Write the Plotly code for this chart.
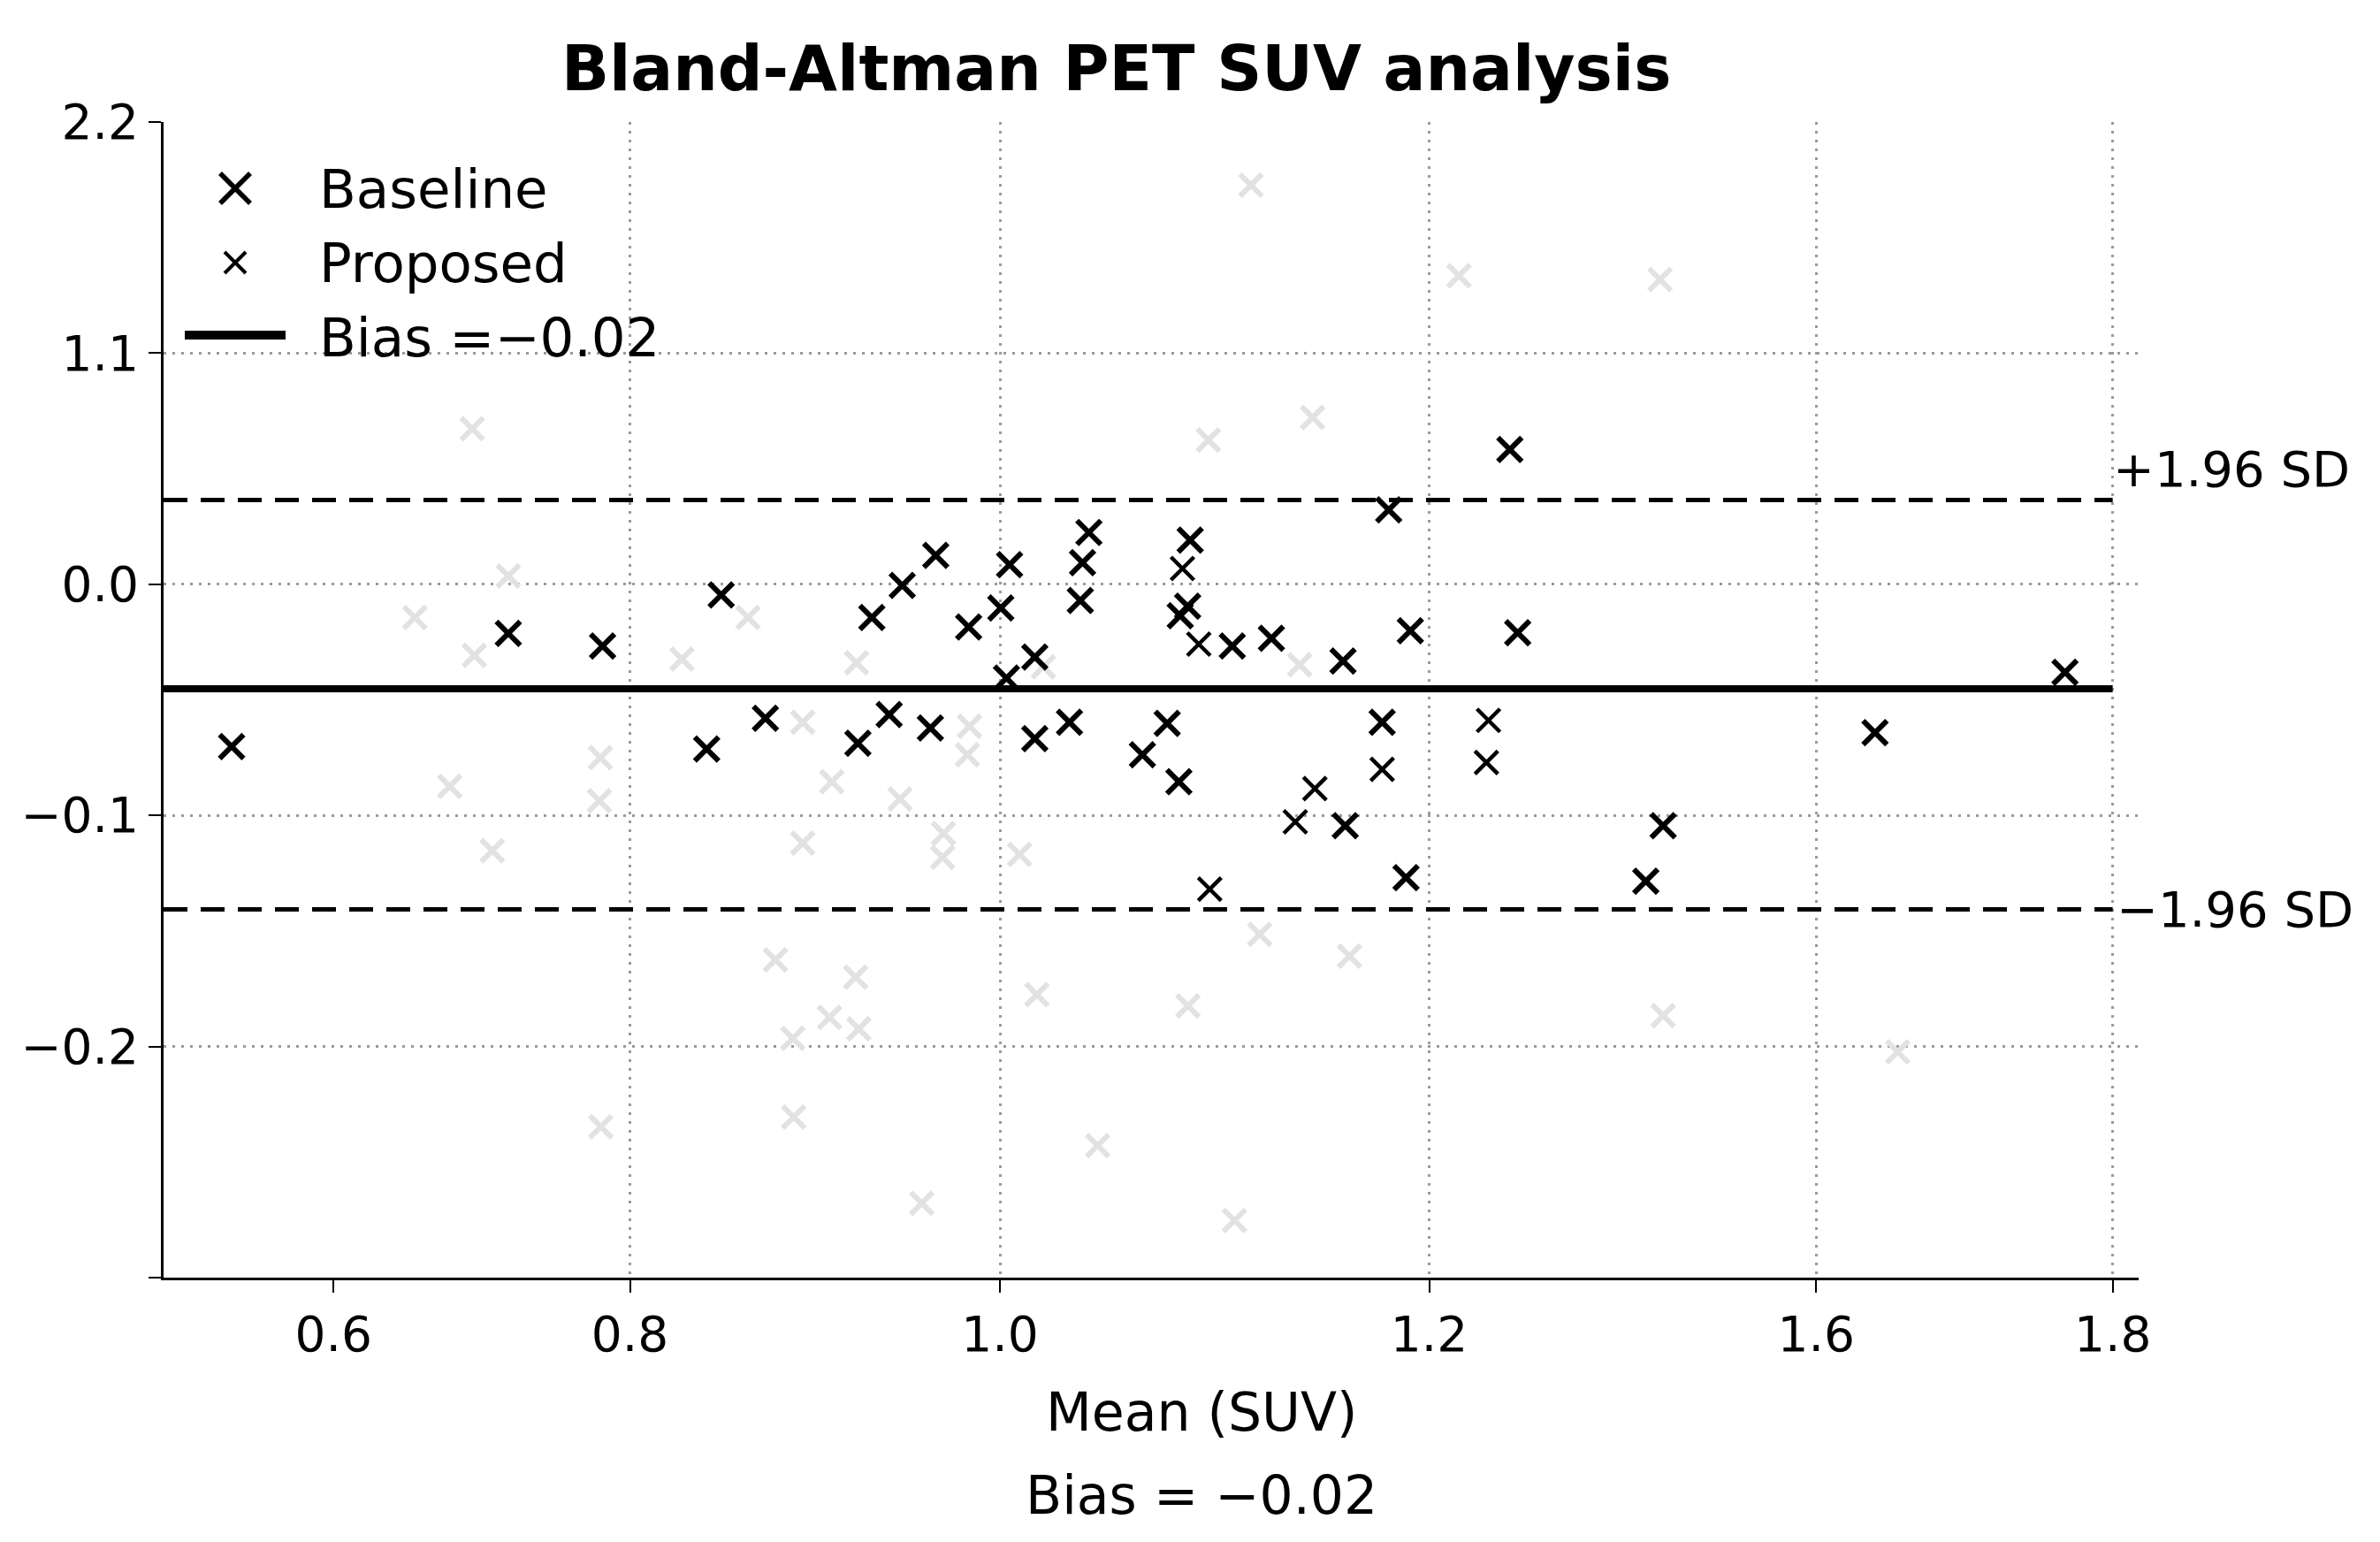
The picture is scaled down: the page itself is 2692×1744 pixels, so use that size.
import plotly.graph_objects as go

# ---------------- data ----------------
baseline_x = [0.5313, 0.7179, 0.7815, 0.8517, 0.8615, 0.8913, 0.9537, 0.9631, 0.9748, 0.9836,
              1.0026, 1.0062, 1.0284, 1.0501, 1.0539, 1.0560, 1.0730, 1.0730, 1.0964, 1.1037,
              1.1052, 1.1095, 1.1456, 1.1623, 1.1702, 1.1711, 1.1761, 1.1778,
              1.2062, 1.2326, 1.2809, 1.2824, 1.3073, 1.3117, 1.3234, 1.3263,
              1.3934, 1.3987, 1.4851, 1.4968, 1.6397, 1.7678]
baseline_y = [-0.0702, -0.0213, -0.0267, -0.0713, -0.0046, -0.0580, -0.0688, -0.0144, -0.0564, -0.0005,
              -0.0622, 0.0125, -0.0185, -0.0103, -0.0406, 0.0085, -0.0668, -0.0315, -0.0597, -0.0070,
              0.0093, 0.0224, -0.0738, -0.0602, -0.0854, -0.0136, -0.0095, 0.0191,
              -0.0267, -0.0234, -0.0332, -0.1045, -0.0597, 0.0322, -0.1269, -0.0201,
              0.0583, -0.0210, -0.1285, -0.1045, -0.0642, -0.0381]

proposed_x = [1.1726, 1.1836, 1.1910, 1.2487, 1.2619, 1.3073, 1.3776, 1.3790]
proposed_y = [0.0068, -0.0259, -0.1319, -0.1028, -0.0884, -0.0801, -0.0771, -0.0589]

faint_x = [0.6936, 0.7179, 0.6549, 0.6950, 0.6784, 0.7071, 0.7800, 0.7794, 0.7803, 0.8350,
           0.8796, 0.8981, 0.9165, 0.9165, 0.9098, 0.9104, 0.9361, 0.9346, 0.9528, 0.9522,
           0.9543, 0.9821, 0.9968, 1.0114, 1.0108, 1.0290, 1.0275, 1.0627, 1.0744, 1.0788,
           1.1154, 1.1763, 1.1901, 1.2077, 1.2188, 1.2247, 1.2516, 1.2604, 1.2853, 1.3591,
           1.4947, 1.4968, 1.6550]
faint_y = [0.0673, 0.0036, -0.0144, -0.0307, -0.0874, -0.1153, -0.0750, -0.0937, -0.2347, -0.0324,
           -0.0144, -0.1625, -0.0597, -0.1120, -0.1965, -0.2305, -0.0854, -0.1874, -0.0340, -0.1700,
           -0.1924, -0.0929, -0.2678, -0.1078, -0.1181, -0.0614, -0.0738, -0.1169, -0.1775, -0.0357,
           -0.2429, -0.1824, 0.0624, -0.2753, 0.1727, -0.1514, -0.0348, 0.0722, -0.1609, 0.1335,
           0.1319, -0.1866, -0.2023]

bias = -0.0452
upper_loa = 0.0365
lower_loa = -0.1407

legend_labels = ["Baseline", "Proposed", "Bias =\u22120.02"]

x_tick_vals = [0.6, 0.8, 1.0495, 1.3390, 1.6, 1.8]
x_tick_text = ["0.6", "0.8", "1.0", "1.2", "1.6", "1.8"]
x_grid_vals = [0.8, 1.0495, 1.3390, 1.6, 1.8]
y_tick_vals = [0.2, 0.1, 0.0, -0.1, -0.2, -0.3]
y_tick_text = ["2.2", "1.1", "0.0", "\u22120.1", "\u22120.2", ""]

x_range = [0.4854, 1.8175]
y_range = [-0.3, 0.2]
line_x = [x_range[0], x_tick_vals[-1]]

FONT = "DejaVu Sans"

# ---------------- geometry (figure pixels) ----------------
W, H = 2676, 1728
ML, MR, MT, MB = 177, 265, 130, 291
PW = W - ML - MR
PH = H - MT - MB


def px(X):
    return (X - ML) / PW


def py(Y):
    return (H - MB - Y) / PH


fig = go.Figure()

fig.add_trace(go.Scatter(
    x=faint_x, y=faint_y, mode="markers", showlegend=False, hoverinfo="skip",
    marker=dict(symbol="x-thin", size=25, color="#e2e2e2",
                line=dict(color="#e2e2e2", width=6))))

fig.add_trace(go.Scatter(
    x=line_x, y=[upper_loa, upper_loa], mode="lines", showlegend=False,
    line=dict(color="black", width=5, dash="27px,15px")))
fig.add_trace(go.Scatter(
    x=line_x, y=[lower_loa, lower_loa], mode="lines", showlegend=False,
    line=dict(color="black", width=5, dash="27px,15px")))

fig.add_trace(go.Scatter(
    x=line_x, y=[bias, bias], mode="lines", name=legend_labels[2], showlegend=False,
    line=dict(color="black", width=8)))

fig.add_trace(go.Scatter(
    x=proposed_x, y=proposed_y, mode="markers", name=legend_labels[1], showlegend=False,
    marker=dict(symbol="x-thin", size=26, color="black",
                line=dict(color="black", width=4.5))))

fig.add_trace(go.Scatter(
    x=baseline_x, y=baseline_y, mode="markers", name=legend_labels[0], showlegend=False,
    marker=dict(symbol="x-thin", size=27, color="black",
                line=dict(color="black", width=6))))

fig.update_layout(
    width=W, height=H,
    margin=dict(l=ML, r=MR, t=MT, b=MB),
    paper_bgcolor="white", plot_bgcolor="white",
    font=dict(family=FONT, size=55, color="black"),
    title=dict(text="Bland-Altman PET SUV analysis", xref="paper", x=0.4824,
               xanchor="center", yref="container", y=1 - 69.3 / H, yanchor="middle",
               font=dict(family=FONT, size=71, color="black", weight="bold")),
    showlegend=False,
    xaxis=dict(range=x_range, tickmode="array", tickvals=x_tick_vals, ticktext=x_tick_text,
               showgrid=False, zeroline=False, showline=True, linecolor="black", linewidth=3,
               ticks="outside", ticklen=14, tickwidth=2, tickcolor="black",
               tickfont=dict(family=FONT, size=55, color="black"),
               minor=dict(tickmode="array", tickvals=x_grid_vals, showgrid=True,
                          gridcolor="#9a9a9a", gridwidth=2.5, griddash="2.5px,7.5px", ticks="")),
    yaxis=dict(range=y_range, tickmode="array", tickvals=y_tick_vals, ticktext=y_tick_text,
               showgrid=True, gridcolor="#9a9a9a", gridwidth=2.5, griddash="2.5px,7.5px",
               zeroline=False, showline=True, linecolor="black", linewidth=3,
               ticks="outside", ticklen=14, tickwidth=2, tickcolor="black",
               tickfont=dict(family=FONT, size=55, color="black")),
)

# ---------------- legend (drawn in the upper-left corner) ----------------
shapes = []
for (cx, cy, half, lw) in [(258, 205, 17, 5.5), (258, 289, 12, 4)]:
    shapes.append(dict(type="line", xref="paper", yref="paper",
                       x0=px(cx - half), y0=py(cy - half), x1=px(cx + half), y1=py(cy + half),
                       line=dict(color="black", width=lw)))
    shapes.append(dict(type="line", xref="paper", yref="paper",
                       x0=px(cx - half), y0=py(cy + half), x1=px(cx + half), y1=py(cy - half),
                       line=dict(color="black", width=lw)))
shapes.append(dict(type="line", xref="paper", yref="paper",
                   x0=px(201), y0=py(371), x1=px(315), y1=py(371),
                   line=dict(color="black", width=10)))
fig.update_layout(shapes=shapes)

for label, cy in zip(legend_labels, [205, 289, 373]):
    fig.add_annotation(text=label, x=px(351), y=py(cy), xref="paper", yref="paper",
                       xanchor="left", yanchor="middle", showarrow=False,
                       font=dict(family=FONT, size=61, color="black"))

# ---------------- text labels ----------------
fig.add_annotation(text="+1.96 SD", x=x_tick_vals[-1], y=upper_loa, xref="x", yref="y",
                   xanchor="left", yanchor="bottom", xshift=-2, showarrow=False,
                   font=dict(family=FONT, size=56, color="black"))
fig.add_annotation(text="\u22121.96 SD", x=x_tick_vals[-1], y=lower_loa, xref="x", yref="y",
                   xanchor="left", yanchor="middle", xshift=2, showarrow=False,
                   font=dict(family=FONT, size=56, color="black"))
fig.add_annotation(text="Mean (SUV)", x=px(1351), y=py(1589), xref="paper", yref="paper",
                   xanchor="center", yanchor="middle", showarrow=False,
                   font=dict(family=FONT, size=60, color="black"))
fig.add_annotation(text="Bias = \u22120.02", x=px(1351), y=py(1683), xref="paper", yref="paper",
                   xanchor="center", yanchor="middle", showarrow=False,
                   font=dict(family=FONT, size=60, color="black"))

fig.write_html("out.html")
